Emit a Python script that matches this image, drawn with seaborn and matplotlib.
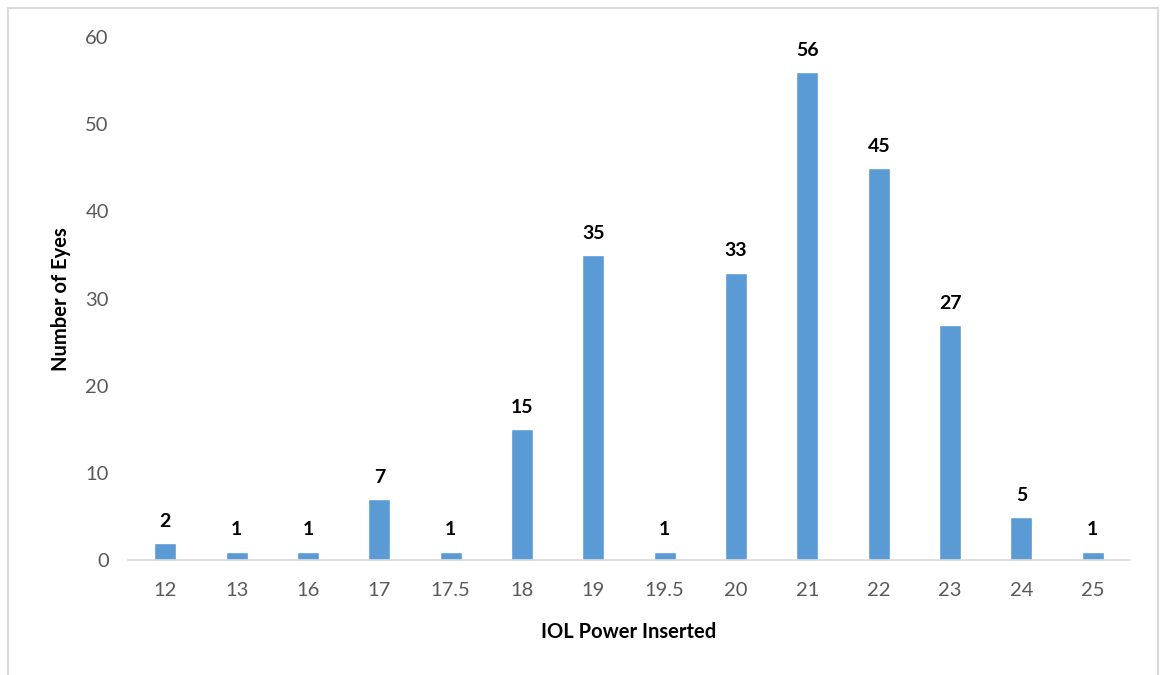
import numpy as np
import pandas as pd
import matplotlib
matplotlib.use("Agg")
import matplotlib.pyplot as plt
import seaborn as sns
from matplotlib.patches import Rectangle

iol_power = ["12", "13", "16", "17", "17.5", "18", "19", "19.5", "20", "21", "22", "23", "24", "25"]
num_eyes = [2, 1, 1, 7, 1, 15, 35, 1, 33, 56, 45, 27, 5, 1]

df = pd.DataFrame({"power": iol_power, "eyes": num_eyes})

sns.set_style("white")
plt.rcParams['font.family'] = ['Lato', 'DejaVu Sans']

fig = plt.figure(figsize=(11.66, 6.75), dpi=100)
ax = fig.add_axes([0.110, 0.170, 0.859, 0.775])

sns.barplot(data=df, x="power", y="eyes", color="#5B9BD5", width=0.31,
            saturation=1, ax=ax)

for i, v in enumerate(num_eyes):
    ax.text(i, v + 1.5, str(v), ha="center", va="bottom",
            fontsize=14, fontweight="bold", color="black")

ax.set_ylim(0, 60)
ax.set_xlim(-0.52, 13.52)
ax.set_yticks(range(0, 61, 10))
ax.tick_params(axis="both", colors="#595959", labelsize=14.5, length=0)
ax.tick_params(axis="x", pad=16)
ax.tick_params(axis="y", pad=14)

for s in ["top", "right", "left"]:
    ax.spines[s].set_visible(False)
ax.spines["bottom"].set_color("#D9D9D9")
ax.spines["bottom"].set_linewidth(1.2)

ax.set_xlabel("IOL Power Inserted", fontsize=14.5, fontweight="bold", color="black", labelpad=16)
ax.set_ylabel("Number of Eyes", fontsize=14.5, fontweight="bold", color="black", labelpad=10)

fig.patches.append(Rectangle((8 / 1166, -0.01), (1158 - 8) / 1166, 1 - 8 / 675 + 0.01,
                             transform=fig.transFigure, fill=False,
                             edgecolor="#D9D9D9", linewidth=1.5))

fig.savefig("out.png", dpi=100)
